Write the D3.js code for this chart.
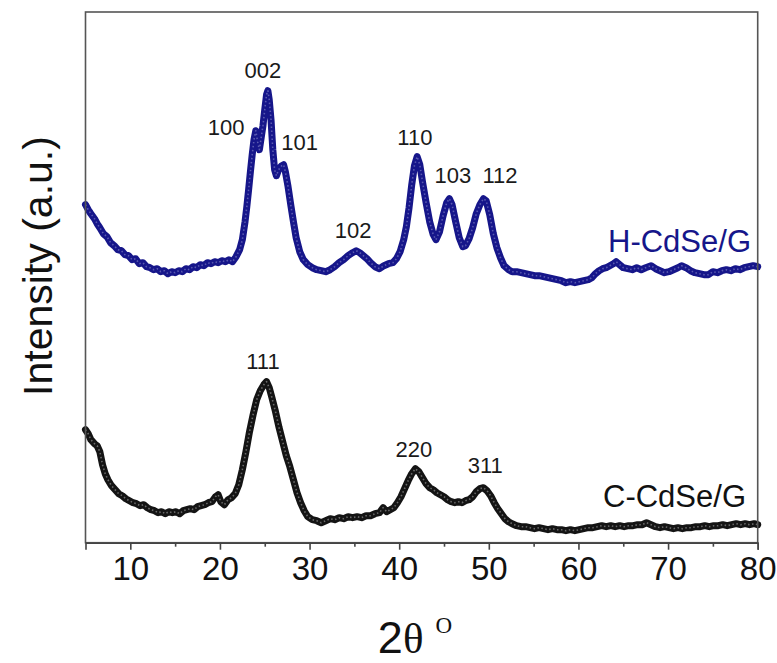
<!DOCTYPE html>
<html>
<head>
<meta charset="utf-8">
<script src="https://cdn.jsdelivr.net/npm/d3@7"></script>
<style>
  html, body { margin: 0; padding: 0; background: #fff; }
  svg { display: block; }
</style>
</head>
<body>
<svg id="chart" width="777" height="663"></svg>
<script>
// ---------------- DATA ----------------
// 2-theta (degrees) and intensity (a.u.) for H-CdSe/G (hexagonal)
const hAngle = [5.0,5.3,5.6,6.0,6.3,6.6,7.0,7.4,7.8,8.2,8.6,9.0,9.4,9.8,10.2,10.6,11.0,11.4,11.8,12.2,12.6,13.0,13.4,13.8,14.2,14.6,15.0,15.4,15.8,16.2,16.6,17.0,17.4,17.8,18.2,18.6,19.0,19.4,19.8,20.2,20.6,21.0,21.4,21.8,22.2,22.5,22.8,23.0,23.2,23.4,23.6,23.8,24.0,24.2,24.4,24.6,24.8,25.0,25.2,25.35,25.5,25.7,25.9,26.1,26.3,26.5,26.7,26.9,27.1,27.3,27.6,27.9,28.2,28.5,28.9,29.3,29.8,30.3,30.8,31.3,31.8,32.3,32.8,33.3,33.8,34.3,34.8,35.2,35.6,36.0,36.4,36.8,37.3,37.8,38.3,38.8,39.3,39.7,40.1,40.5,40.8,41.1,41.4,41.7,42.0,42.3,42.6,43.0,43.4,43.8,44.1,44.5,44.9,45.3,45.6,45.9,46.3,46.7,47.1,47.4,47.8,48.2,48.6,49.0,49.4,49.7,50.1,50.5,50.9,51.3,51.7,52.2,52.6,53.1,53.6,54.1,54.6,55.1,55.6,56.1,56.6,57.1,57.6,58.1,58.6,59.1,59.6,60.1,60.6,61.1,61.5,61.9,62.3,62.7,63.1,63.5,63.9,64.2,64.6,65.0,65.5,66.0,66.5,67.0,67.5,68.1,68.6,69.1,69.6,70.1,70.6,71.1,71.5,72.0,72.5,73.0,73.5,74.0,74.5,75.0,75.5,76.0,76.5,77.0,77.5,78.0,78.5,79.0,79.5,80.0];
const hIntensity = [338,333,329,324,319,315,309,306,300,297,293,292,288,287,283,284,279,280,276,275,273,274,271,272,269,271,270,272,271,274,273,276,275,278,277,280,279,281,280,282,281,283,281,286,293,303,321,336,353,371,388,403,412,401,393,405,417,433,448,452,443,423,393,373,367,372,375,377,378,371,356,338,321,305,291,283,278,275,273,272,271,273,276,280,283,287,290,292,290,287,284,280,276,274,277,279,280,284,291,303,316,335,358,377,386,378,361,340,321,308,303,311,327,340,344,338,321,305,296,297,304,315,329,338,344,342,328,309,295,285,277,273,271,271,270,269,268,267,267,266,265,264,263,262,260,261,260,261,262,263,265,269,272,274,275,277,279,281,278,275,274,273,275,273,275,277,274,272,270,271,273,275,277,275,272,270,269,268,268,271,270,272,273,272,274,273,275,276,277,276];

// 2-theta (degrees) and intensity (a.u.) for C-CdSe/G (cubic)
const cAngle = [5.0,5.3,5.6,6.0,6.3,6.6,6.9,7.2,7.5,7.9,8.3,8.7,9.1,9.5,9.9,10.3,10.7,11.1,11.5,11.9,12.3,12.7,13.1,13.5,13.9,14.3,14.7,15.1,15.5,15.9,16.3,16.7,17.1,17.5,17.9,18.3,18.7,19.1,19.5,19.8,20.1,20.5,20.9,21.3,21.7,22.1,22.5,22.9,23.3,23.7,24.1,24.5,24.9,25.2,25.5,25.8,26.2,26.6,27.0,27.4,27.8,28.2,28.6,29.0,29.4,29.8,30.3,30.8,31.3,31.8,32.3,32.8,33.3,33.8,34.3,34.8,35.3,35.8,36.3,36.8,37.3,37.8,38.2,38.6,39.0,39.4,39.8,40.2,40.6,41.0,41.4,41.8,42.2,42.6,43.0,43.4,43.8,44.2,44.6,45.0,45.4,45.8,46.2,46.6,47.0,47.4,47.8,48.2,48.6,49.0,49.4,49.8,50.2,50.6,51.0,51.4,51.8,52.2,52.6,53.1,53.6,54.1,54.6,55.1,55.6,56.1,56.6,57.1,57.6,58.1,58.6,59.1,59.6,60.1,60.6,61.1,61.6,62.1,62.6,63.1,63.6,64.1,64.6,65.1,65.6,66.1,66.6,67.1,67.6,68.1,68.6,69.1,69.6,70.1,70.6,71.1,71.6,72.1,72.6,73.1,73.6,74.1,74.6,75.1,75.6,76.1,76.6,77.1,77.6,78.1,78.6,79.1,79.6,80.0];
const cIntensity = [113,109,103,99,97,91,78,69,63,57,53,49,47,44,42,40,39,37,38,35,33,32,30,31,29,31,30,31,29,32,33,34,33,36,37,38,40,41,46,48,41,38,43,45,49,58,73,91,111,128,143,152,158,161,155,145,131,115,101,87,76,63,50,40,32,26,23,22,20,22,24,23,25,24,26,25,26,25,27,27,29,30,35,31,33,35,40,46,54,62,69,74,71,65,59,55,53,50,48,46,43,41,40,41,40,42,43,46,51,54,55,52,47,40,34,29,24,21,19,17,16,16,15,14,15,14,13,14,13,13,12,13,12,13,14,15,15,16,17,16,17,16,17,16,17,17,18,18,20,18,16,15,16,15,14,15,14,15,15,16,16,17,16,17,17,18,17,18,19,18,19,18,19,18];

// axis
const xTicks = [10,20,30,40,50,60,70,80];
const xMinorTicks = [15,25,35,45,55,65,75];

// peak labels (Miller indices) with anchor in data units (2θ, intensity)
const hPeakLabels = ["100","002","101","102","110","103","112"];
const hPeakAngle  = [20.7, 24.8, 28.9, 34.85, 41.75, 46.0, 51.25];
const hPeakLevel  = [408, 465, 393, 305, 398, 360, 360];
const cPeakLabels = ["111","220","311"];
const cPeakAngle  = [24.8, 41.65, 49.6];
const cPeakLevel  = [174, 86, 70];

const seriesNames = ["H-CdSe/G","C-CdSe/G"];

// ---------------- LAYOUT ----------------
const svg = d3.select("#chart");
const mLeft = 85.5, mRight = 757.7, mTop = 12, mBottom = 542.7;
const x = d3.scaleLinear().domain([5, 80]).range([mLeft, mRight]);
const y = d3.scaleLinear().domain([0, 530.7]).range([mBottom, mTop]);

const blue = "#16168a";
const black = "#141414";

// curves
const line = d3.line().x(d => x(d[0])).y(d => y(d[1]));
const hData = hAngle.map((a, i) => [a, hIntensity[i]]);
const cData = cAngle.map((a, i) => [a, cIntensity[i]]);

function drawCurve(data, col, tex) {
  svg.append("path").datum(data).attr("d", line)
    .attr("fill", "none").attr("stroke", col).attr("stroke-width", 7)
    .attr("stroke-linejoin", "round").attr("stroke-linecap", "round");
  svg.append("path").datum(data).attr("d", line)
    .attr("fill", "none").attr("stroke", tex).attr("stroke-width", 1.6)
    .attr("stroke-dasharray", "1.5,2.5").attr("stroke-linejoin", "round");
}
drawCurve(hData, blue, "#5a5ab0");
drawCurve(cData, black, "#6a6a6a");

// frame
svg.append("rect").attr("x", mLeft).attr("y", mTop)
  .attr("width", mRight - mLeft).attr("height", mBottom - mTop)
  .attr("fill", "none").attr("stroke", "#555").attr("stroke-width", 1.6);

// x axis
const xAxis = d3.axisBottom(x).tickValues(xTicks).tickSize(7).tickPadding(7)
  .tickFormat(d3.format("d"));
const gx = svg.append("g").attr("transform", `translate(0,${mBottom})`).call(xAxis);
gx.select(".domain").attr("stroke", "#444").attr("stroke-width", 1.6);
gx.selectAll(".tick line").attr("stroke", "#444").attr("stroke-width", 1.6);
gx.selectAll(".tick text").attr("font-family", "Liberation Sans, Arial, sans-serif")
  .attr("font-size", 33).attr("fill", "#111");
const gxm = svg.append("g").attr("transform", `translate(0,${mBottom})`)
  .call(d3.axisBottom(x).tickValues(xMinorTicks).tickSize(4).tickFormat(""));
gxm.select(".domain").remove();
gxm.selectAll(".tick line").attr("stroke", "#444").attr("stroke-width", 1.6);

// axis titles
const xt = svg.append("text").attr("x", 415).attr("y", 653)
  .attr("text-anchor", "middle").attr("fill", "#111");
xt.append("tspan").attr("font-family", "Liberation Sans, Arial, sans-serif").attr("font-size", 45).text("2");
xt.append("tspan").attr("font-family", "Liberation Serif, Times New Roman, serif").attr("font-size", 43).text("θ");
xt.append("tspan").attr("font-family", "Liberation Serif, Times New Roman, serif").attr("font-size", 23)
  .attr("dx", 12).attr("dy", -20).text("O");

svg.append("text")
  .attr("transform", "translate(52,266) rotate(-90)")
  .attr("text-anchor", "middle")
  .attr("font-family", "Liberation Sans, Arial, sans-serif")
  .attr("font-size", 41).attr("fill", "#111")
  .text("Intensity (a.u.)");

// peak labels
const lblFont = "Liberation Sans, Arial, sans-serif";
svg.selectAll(".hpk").data(hPeakLabels).join("text").attr("class", "hpk")
  .attr("x", (d, i) => x(hPeakAngle[i])).attr("y", (d, i) => y(hPeakLevel[i]))
  .attr("text-anchor", "middle").attr("font-family", lblFont).attr("font-size", 22)
  .attr("fill", "#1a1a1a").text(d => d);
svg.selectAll(".cpk").data(cPeakLabels).join("text").attr("class", "cpk")
  .attr("x", (d, i) => x(cPeakAngle[i])).attr("y", (d, i) => y(cPeakLevel[i]))
  .attr("text-anchor", "middle").attr("font-family", lblFont).attr("font-size", 22)
  .attr("fill", "#1a1a1a").text(d => d);

// series names
svg.append("text").attr("x", 751).attr("y", 252).attr("text-anchor", "end")
  .attr("font-family", lblFont).attr("font-size", 31).attr("fill", blue).text(seriesNames[0]);
svg.append("text").attr("x", 746).attr("y", 507).attr("text-anchor", "end")
  .attr("font-family", lblFont).attr("font-size", 31).attr("fill", "#111").text(seriesNames[1]);
</script>
</body>
</html>
